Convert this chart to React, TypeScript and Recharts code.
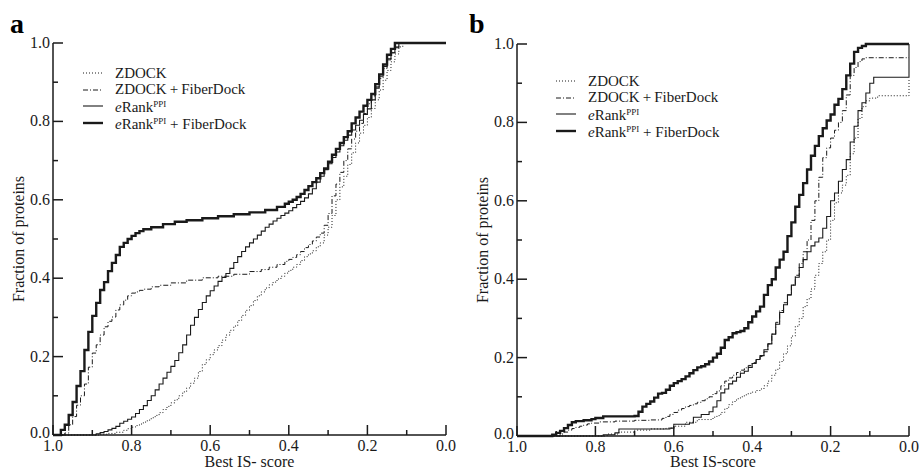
import { LineChart, Line, XAxis, YAxis, Legend } from "recharts";

type Pt = [number, number];

const TICKS = [0, 0.1, 0.2, 0.3, 0.4, 0.5, 0.6, 0.7, 0.8, 0.9, 1.0];

// panel a: [best IS-score, fraction of proteins]
const A_ZDOCK: Pt[] = [
  [1.0, 0], [0.9, 0], [0.88, 0.002], [0.86, 0.004], [0.84, 0.007], [0.82, 0.012], [0.81, 0.016], [0.8, 0.02],
  [0.79, 0.024], [0.78, 0.028], [0.77, 0.033], [0.76, 0.038], [0.75, 0.044], [0.74, 0.05], [0.73, 0.057],
  [0.72, 0.065], [0.71, 0.073], [0.7, 0.082], [0.69, 0.09], [0.68, 0.1], [0.67, 0.11], [0.66, 0.12],
  [0.65, 0.132], [0.64, 0.145], [0.63, 0.162], [0.62, 0.18], [0.61, 0.192], [0.6, 0.205], [0.59, 0.217],
  [0.58, 0.228], [0.57, 0.242], [0.56, 0.255], [0.55, 0.267], [0.54, 0.278], [0.53, 0.292], [0.52, 0.305],
  [0.51, 0.318], [0.5, 0.33], [0.49, 0.343], [0.48, 0.355], [0.47, 0.365], [0.46, 0.375], [0.45, 0.383],
  [0.44, 0.39], [0.43, 0.398], [0.42, 0.405], [0.41, 0.413], [0.4, 0.42], [0.39, 0.428], [0.38, 0.435],
  [0.37, 0.445], [0.36, 0.455], [0.35, 0.462], [0.34, 0.47], [0.33, 0.48], [0.32, 0.49], [0.31, 0.51],
  [0.3, 0.53], [0.29, 0.56], [0.28, 0.6], [0.27, 0.633], [0.26, 0.66], [0.25, 0.69], [0.24, 0.72],
  [0.23, 0.745], [0.22, 0.77], [0.21, 0.79], [0.2, 0.81], [0.19, 0.833], [0.18, 0.855], [0.17, 0.88],
  [0.16, 0.905], [0.15, 0.93], [0.14, 0.952], [0.13, 0.972], [0.12, 0.99], [0.11, 1.0], [0.0, 1.0],
];
const A_ZDOCK_FD: Pt[] = [
  [1.0, 0], [0.97, 0.005], [0.96, 0.026], [0.95, 0.047], [0.94, 0.076], [0.93, 0.1], [0.92, 0.13],
  [0.91, 0.173], [0.9, 0.209], [0.89, 0.23], [0.88, 0.255], [0.87, 0.276], [0.86, 0.29], [0.85, 0.301],
  [0.84, 0.319], [0.83, 0.332], [0.82, 0.344], [0.81, 0.355], [0.8, 0.362], [0.79, 0.365], [0.78, 0.369],
  [0.77, 0.372], [0.75, 0.378], [0.73, 0.382], [0.7, 0.388], [0.66, 0.395], [0.62, 0.401], [0.58, 0.405],
  [0.54, 0.41], [0.5, 0.417], [0.47, 0.422], [0.45, 0.428], [0.43, 0.435], [0.41, 0.443], [0.4, 0.448],
  [0.39, 0.453], [0.38, 0.46], [0.37, 0.468], [0.36, 0.478], [0.35, 0.486], [0.34, 0.495], [0.33, 0.505],
  [0.32, 0.515], [0.31, 0.535], [0.3, 0.565], [0.29, 0.61], [0.28, 0.64], [0.27, 0.67], [0.26, 0.7],
  [0.25, 0.73], [0.24, 0.755], [0.23, 0.775], [0.22, 0.795], [0.21, 0.82], [0.2, 0.845], [0.19, 0.865],
  [0.18, 0.888], [0.17, 0.91], [0.16, 0.935], [0.15, 0.957], [0.14, 0.975], [0.13, 0.99], [0.12, 1.0], [0.0, 1.0],
];
const A_ERANK: Pt[] = [
  [1.0, 0], [0.9, 0], [0.89, 0.003], [0.88, 0.006], [0.87, 0.009], [0.86, 0.013], [0.85, 0.017], [0.84, 0.022],
  [0.83, 0.03], [0.82, 0.035], [0.81, 0.04], [0.8, 0.046], [0.79, 0.055], [0.78, 0.065], [0.77, 0.075],
  [0.76, 0.088], [0.75, 0.1], [0.74, 0.115], [0.73, 0.13], [0.72, 0.145], [0.71, 0.16], [0.7, 0.175],
  [0.69, 0.19], [0.68, 0.21], [0.67, 0.23], [0.66, 0.255], [0.65, 0.28], [0.64, 0.3], [0.63, 0.32],
  [0.62, 0.338], [0.61, 0.355], [0.6, 0.368], [0.59, 0.38], [0.58, 0.392], [0.57, 0.402], [0.56, 0.412],
  [0.55, 0.425], [0.54, 0.44], [0.53, 0.455], [0.52, 0.468], [0.51, 0.48], [0.5, 0.49], [0.49, 0.5],
  [0.48, 0.51], [0.47, 0.52], [0.46, 0.53], [0.45, 0.538], [0.44, 0.546], [0.43, 0.553], [0.42, 0.56],
  [0.41, 0.566], [0.4, 0.572], [0.39, 0.58], [0.38, 0.588], [0.37, 0.596], [0.36, 0.605], [0.35, 0.615],
  [0.34, 0.628], [0.33, 0.645], [0.32, 0.66], [0.31, 0.677], [0.3, 0.692], [0.29, 0.708], [0.28, 0.722],
  [0.27, 0.738], [0.26, 0.752], [0.25, 0.765], [0.24, 0.778], [0.23, 0.79], [0.22, 0.803], [0.21, 0.818],
  [0.2, 0.832], [0.19, 0.855], [0.18, 0.885], [0.17, 0.915], [0.16, 0.94], [0.15, 0.96], [0.14, 0.975],
  [0.13, 0.988], [0.12, 1.0], [0.0, 1.0],
];
const A_ERANK_FD: Pt[] = [
  [1.0, 0], [0.99, 0], [0.98, 0.013], [0.97, 0.026], [0.96, 0.051], [0.95, 0.084], [0.94, 0.125],
  [0.93, 0.163], [0.92, 0.217], [0.91, 0.263], [0.9, 0.304], [0.89, 0.337], [0.88, 0.37], [0.87, 0.39],
  [0.86, 0.418], [0.85, 0.439], [0.84, 0.459], [0.83, 0.48], [0.82, 0.49], [0.81, 0.5], [0.8, 0.508],
  [0.79, 0.515], [0.78, 0.52], [0.77, 0.525], [0.75, 0.53], [0.72, 0.538], [0.69, 0.544], [0.66, 0.548],
  [0.62, 0.553], [0.58, 0.558], [0.54, 0.563], [0.5, 0.568], [0.46, 0.574], [0.43, 0.582], [0.41, 0.59],
  [0.4, 0.595], [0.39, 0.6], [0.38, 0.607], [0.37, 0.615], [0.36, 0.625], [0.35, 0.635], [0.34, 0.645],
  [0.33, 0.655], [0.32, 0.668], [0.31, 0.68], [0.3, 0.697], [0.29, 0.715], [0.28, 0.73], [0.27, 0.745],
  [0.26, 0.76], [0.25, 0.775], [0.24, 0.795], [0.23, 0.81], [0.22, 0.825], [0.21, 0.84], [0.2, 0.855],
  [0.19, 0.87], [0.18, 0.895], [0.17, 0.92], [0.16, 0.945], [0.15, 0.97], [0.14, 0.985], [0.13, 1.0], [0.0, 1.0],
];

// panel b
const B_ZDOCK: Pt[] = [
  [1.0, 0], [0.78, 0], [0.77, 0.005], [0.74, 0.01], [0.7, 0.015], [0.66, 0.018], [0.62, 0.02], [0.6, 0.025],
  [0.57, 0.035], [0.54, 0.042], [0.5, 0.048], [0.49, 0.052], [0.48, 0.06], [0.47, 0.07], [0.46, 0.08],
  [0.45, 0.088], [0.44, 0.095], [0.43, 0.1], [0.42, 0.105], [0.41, 0.109], [0.4, 0.112], [0.39, 0.116],
  [0.38, 0.12], [0.37, 0.128], [0.36, 0.14], [0.35, 0.155], [0.34, 0.17], [0.33, 0.19], [0.32, 0.21],
  [0.31, 0.23], [0.3, 0.255], [0.29, 0.28], [0.28, 0.3], [0.27, 0.33], [0.26, 0.35], [0.25, 0.375],
  [0.24, 0.41], [0.23, 0.44], [0.22, 0.47], [0.21, 0.5], [0.2, 0.55], [0.19, 0.595], [0.18, 0.62],
  [0.17, 0.64], [0.16, 0.665], [0.15, 0.72], [0.14, 0.76], [0.13, 0.81], [0.12, 0.84], [0.11, 0.855],
  [0.1, 0.862], [0.08, 0.868], [0.01, 0.868], [0.0, 0.91],
];
const B_ZDOCK_FD: Pt[] = [
  [1.0, 0], [0.9, 0], [0.89, 0.005], [0.88, 0.01], [0.87, 0.015], [0.86, 0.019], [0.85, 0.022], [0.84, 0.025],
  [0.83, 0.028], [0.82, 0.031], [0.81, 0.033], [0.79, 0.036], [0.75, 0.038], [0.7, 0.04], [0.66, 0.041],
  [0.63, 0.045], [0.62, 0.05], [0.61, 0.055], [0.6, 0.06], [0.59, 0.066], [0.58, 0.07], [0.57, 0.075],
  [0.56, 0.078], [0.55, 0.082], [0.54, 0.086], [0.53, 0.09], [0.52, 0.095], [0.51, 0.1], [0.5, 0.108],
  [0.49, 0.115], [0.48, 0.128], [0.47, 0.14], [0.46, 0.148], [0.45, 0.155], [0.44, 0.162], [0.43, 0.168],
  [0.42, 0.174], [0.41, 0.18], [0.4, 0.187], [0.39, 0.195], [0.38, 0.203], [0.37, 0.215], [0.36, 0.235],
  [0.35, 0.26], [0.34, 0.29], [0.33, 0.32], [0.32, 0.34], [0.31, 0.36], [0.3, 0.385], [0.29, 0.41],
  [0.28, 0.44], [0.27, 0.47], [0.26, 0.5], [0.25, 0.55], [0.24, 0.6], [0.23, 0.66], [0.22, 0.71],
  [0.21, 0.735], [0.2, 0.76], [0.19, 0.78], [0.18, 0.8], [0.17, 0.83], [0.16, 0.87], [0.15, 0.92],
  [0.14, 0.94], [0.13, 0.955], [0.12, 0.962], [0.11, 0.965], [0.0, 0.965],
];
const B_ERANK: Pt[] = [
  [1.0, 0], [0.78, 0.003], [0.75, 0.008], [0.74, 0.018], [0.61, 0.02], [0.6, 0.03], [0.56, 0.033],
  [0.55, 0.048], [0.53, 0.055], [0.51, 0.062], [0.5, 0.074], [0.49, 0.09], [0.48, 0.11], [0.47, 0.12],
  [0.46, 0.133], [0.45, 0.14], [0.44, 0.15], [0.43, 0.16], [0.42, 0.165], [0.41, 0.175], [0.4, 0.185],
  [0.39, 0.195], [0.38, 0.205], [0.37, 0.22], [0.36, 0.235], [0.35, 0.26], [0.34, 0.285], [0.33, 0.315],
  [0.32, 0.335], [0.31, 0.36], [0.3, 0.385], [0.29, 0.405], [0.28, 0.43], [0.27, 0.45], [0.26, 0.47],
  [0.25, 0.485], [0.24, 0.495], [0.23, 0.505], [0.22, 0.53], [0.21, 0.56], [0.2, 0.6], [0.19, 0.62],
  [0.18, 0.65], [0.17, 0.68], [0.16, 0.705], [0.15, 0.75], [0.14, 0.79], [0.13, 0.83], [0.12, 0.85],
  [0.11, 0.875], [0.1, 0.9], [0.09, 0.915], [0.01, 0.915], [0.0, 1.0],
];
const B_ERANK_FD: Pt[] = [
  [1.0, 0], [0.92, 0], [0.91, 0.003], [0.9, 0.008], [0.89, 0.013], [0.88, 0.02], [0.87, 0.028], [0.86, 0.035],
  [0.85, 0.038], [0.83, 0.04], [0.81, 0.043], [0.8, 0.046], [0.78, 0.05], [0.7, 0.051], [0.69, 0.062],
  [0.68, 0.075], [0.67, 0.082], [0.66, 0.088], [0.65, 0.098], [0.64, 0.108], [0.63, 0.11], [0.62, 0.118],
  [0.61, 0.128], [0.6, 0.135], [0.59, 0.14], [0.58, 0.145], [0.57, 0.152], [0.56, 0.16], [0.55, 0.168],
  [0.54, 0.175], [0.53, 0.178], [0.52, 0.183], [0.51, 0.19], [0.5, 0.2], [0.49, 0.21], [0.48, 0.225],
  [0.47, 0.245], [0.46, 0.252], [0.45, 0.262], [0.44, 0.265], [0.43, 0.268], [0.42, 0.275], [0.41, 0.29],
  [0.4, 0.305], [0.39, 0.318], [0.38, 0.33], [0.37, 0.36], [0.36, 0.385], [0.35, 0.4], [0.34, 0.43],
  [0.33, 0.45], [0.32, 0.47], [0.31, 0.51], [0.3, 0.545], [0.29, 0.585], [0.28, 0.615], [0.27, 0.645],
  [0.26, 0.68], [0.25, 0.715], [0.24, 0.74], [0.23, 0.765], [0.22, 0.785], [0.21, 0.805], [0.2, 0.82],
  [0.19, 0.845], [0.18, 0.86], [0.17, 0.885], [0.16, 0.92], [0.15, 0.95], [0.14, 0.98], [0.13, 0.99],
  [0.12, 0.995], [0.11, 1.0], [0.0, 1.0],
];

const INK = "#1a1a1a";
const SERIF = '"Liberation Serif", "Times New Roman", serif';

const isMajor = (v: number) => Math.round(v * 10) % 2 === 0;
const tickLen = (v: number) => (isMajor(v) ? 10 : 5);

const toRows = (pts: Pt[]) => pts.map(([s, f]) => ({ s, f }));

const eRank = (
  <>
    <i>e</i>Rank<span style={{ fontSize: 9, verticalAlign: 5 }}>PPI</span>
  </>
);

const SERIES = [
  { key: "zdock", label: <>ZDOCK</>, width: 1, dash: "1 2" },
  { key: "zdockFd", label: <>ZDOCK{"\u2009+\u2009"}FiberDock</>, width: 1, dash: "5 2 1 2" },
  { key: "erank", label: eRank, width: 1.1, dash: undefined },
  { key: "erankFd", label: <>{eRank} + FiberDock</>, width: 2.4, dash: undefined },
];

function BottomTick({ x, y, payload }: any) {
  const v = payload.value;
  return (
    <g>
      <line x1={x} x2={x} y1={y} y2={y - tickLen(v)} stroke={INK} strokeWidth={1.5} />
      {isMajor(v) && (
        <text x={x} y={y + 16} textAnchor="middle" fontSize={16} fontFamily={SERIF} fill={INK}>
          {v.toFixed(1)}
        </text>
      )}
    </g>
  );
}

function TopTick({ x, y, payload }: any) {
  return <line x1={x} x2={x} y1={y} y2={y + tickLen(payload.value)} stroke={INK} strokeWidth={1.5} />;
}

function LeftTick({ x, y, payload }: any) {
  const v = payload.value;
  return (
    <g>
      <line x1={x} x2={x + tickLen(v)} y1={y} y2={y} stroke={INK} strokeWidth={1.5} />
      {isMajor(v) && (
        <text x={x - 3} y={y + (v === 0 ? 3 : 5)} textAnchor="end" fontSize={16} fontFamily={SERIF} fill={INK}>
          {v.toFixed(1)}
        </text>
      )}
    </g>
  );
}

function RightTick({ x, y, payload }: any) {
  return <line x1={x} x2={x - tickLen(payload.value)} y1={y} y2={y} stroke={INK} strokeWidth={1.5} />;
}

function LegendBox() {
  return (
    <div style={{ fontFamily: SERIF, fontSize: 15, color: INK, lineHeight: "16.7px" }}>
      {SERIES.map((s) => (
        <div key={s.key} style={{ display: "flex", alignItems: "center", height: 16.7, whiteSpace: "nowrap" }}>
          <svg width={32} height={8} style={{ flex: "none" }}>
            <line x1={0} x2={20} y1={4} y2={4} stroke={INK} strokeWidth={s.width} strokeDasharray={s.dash} />
          </svg>
          <span>{s.label}</span>
        </div>
      ))}
    </div>
  );
}

type PanelProps = {
  left: number;
  width: number;
  margin: { top: number; right: number; bottom: number; left: number };
  series: Pt[][];
  xTitle: string;
  titleOffset: number;
  legendPos: { left: number; top: number };
};

function Panel({ left, width, margin, series, xTitle, titleOffset, legendPos }: PanelProps) {
  return (
    <div style={{ position: "absolute", left, top: 0 }}>
      <LineChart width={width} height={469} margin={margin}>
        <XAxis
          xAxisId="x"
          dataKey="s"
          type="number"
          domain={[0, 1]}
          reversed
          ticks={TICKS}
          interval={0}
          height={30}
          tickSize={0}
          tickMargin={0}
          tickLine={false}
          tick={BottomTick}
          axisLine={{ stroke: INK, strokeWidth: 1.5 }}
          label={{
            value: xTitle,
            position: "insideBottom",
            offset: titleOffset,
            style: { fontFamily: SERIF, fontSize: 16, fill: INK },
          }}
        />
        <XAxis
          xAxisId="top"
          orientation="top"
          type="number"
          domain={[0, 1]}
          reversed
          ticks={TICKS}
          interval={0}
          height={0}
          tickSize={0}
          tickMargin={0}
          tickLine={false}
          tick={TopTick}
          axisLine={{ stroke: INK, strokeWidth: 1.5 }}
        />
        <YAxis
          yAxisId="y"
          type="number"
          domain={[0, 1]}
          ticks={TICKS}
          interval={0}
          width={45}
          tickSize={0}
          tickMargin={0}
          tickLine={false}
          tick={LeftTick}
          axisLine={{ stroke: INK, strokeWidth: 1.5 }}
          label={{
            value: "Fraction of proteins",
            angle: -90,
            position: "insideLeft",
            offset: 10,
            style: { fontFamily: SERIF, fontSize: 16, fill: INK, textAnchor: "middle" },
          }}
        />
        <YAxis
          yAxisId="r"
          orientation="right"
          type="number"
          domain={[0, 1]}
          ticks={TICKS}
          interval={0}
          width={0}
          tickSize={0}
          tickMargin={0}
          tickLine={false}
          tick={RightTick}
          axisLine={{ stroke: INK, strokeWidth: 1.5 }}
        />
        {SERIES.map((s, i) => (
          <Line
            key={s.key}
            xAxisId="x"
            yAxisId="y"
            data={toRows(series[i])}
            dataKey="f"
            name={s.key}
            type="stepAfter"
            stroke={INK}
            strokeWidth={s.width}
            strokeDasharray={s.dash}
            dot={false}
            activeDot={false}
            isAnimationActive={false}
          />
        ))}
        <Legend
          layout="vertical"
          align="center"
          verticalAlign="middle"
          content={() => <LegendBox />}
          wrapperStyle={{ left: legendPos.left, top: legendPos.top, width: "auto", height: "auto" }}
        />
      </LineChart>
    </div>
  );
}

const letterStyle: React.CSSProperties = {
  position: "absolute",
  top: 10,
  fontFamily: SERIF,
  fontWeight: "bold",
  fontSize: 28,
  lineHeight: "28px",
  color: "#000",
};

export default function App() {
  return (
    <div style={{ position: "absolute", left: 0, top: 0, width: 919, height: 469, background: "#fff", fontFamily: SERIF }}>
      <Panel
        left={0}
        width={459}
        margin={{ top: 43, right: 13, bottom: 4, left: 8 }}
        series={[A_ZDOCK, A_ZDOCK_FD, A_ERANK, A_ERANK_FD]}
        xTitle="Best IS- score"
        titleOffset={-2}
        legendPos={{ left: 83, top: 64.6 }}
      />
      <Panel
        left={464}
        width={455}
        margin={{ top: 44, right: 10, bottom: 3, left: 8 }}
        series={[B_ZDOCK, B_ZDOCK_FD, B_ERANK, B_ERANK_FD]}
        xTitle="Best IS-score"
        titleOffset={-1}
        legendPos={{ left: 92, top: 72.5 }}
      />
      <div style={{ ...letterStyle, left: 10 }}>a</div>
      <div style={{ ...letterStyle, left: 469 }}>b</div>
    </div>
  );
}
